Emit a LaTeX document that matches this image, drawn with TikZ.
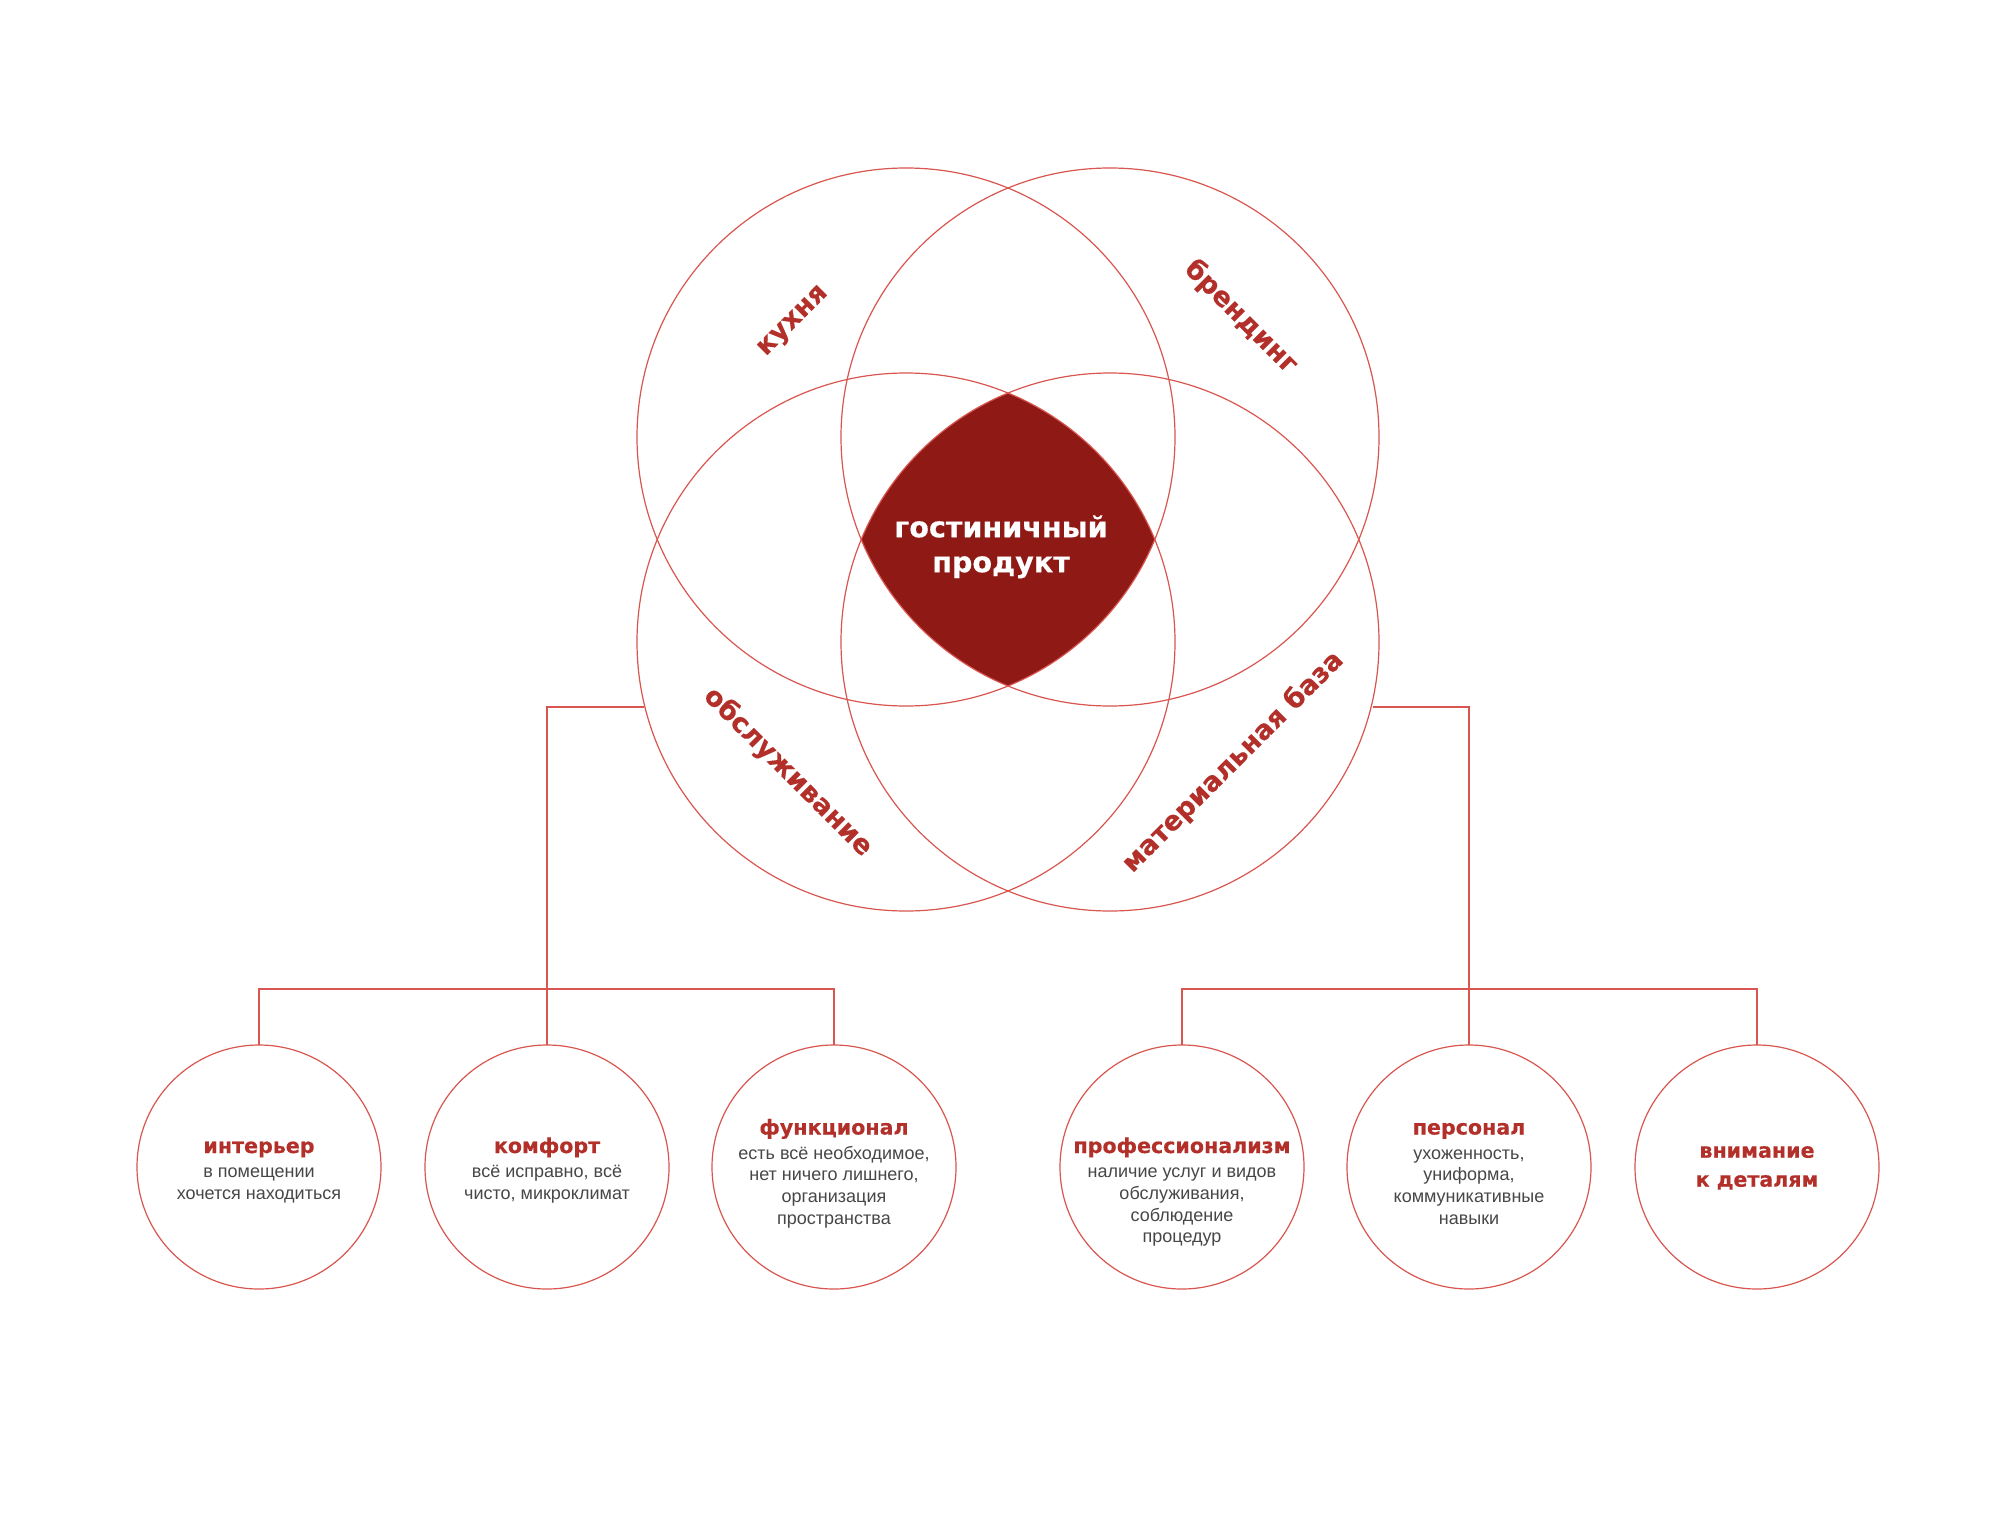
\documentclass[tikz,border=0pt]{standalone}
\usepackage{fontspec}
\setmainfont{Liberation Sans}
\newfontfamily\headfont{DejaVu Sans Bold}[FakeBold=0.35]
\definecolor{vline}{HTML}{D8564F}
\definecolor{lensred}{HTML}{8F1915}
\definecolor{labred}{HTML}{B3302A}
\definecolor{bodygrey}{HTML}{474747}
\begin{document}
\begin{tikzpicture}[x=1pt,y=-1pt,
  vcirc/.style={circle,draw=vline,line width=1.2pt,minimum size=538pt,inner sep=0pt,outer sep=0pt},
  scirc/.style={circle,draw=vline,line width=1.2pt,minimum size=244pt,inner sep=0pt,outer sep=0pt},
  conn/.style={draw=vline,line width=1.2pt},
  vlabel/.style={font=\headfont\fontsize{26.8}{30}\selectfont,text=labred,inner sep=0pt},
  ttl/.style={font=\headfont\fontsize{20.6}{29}\selectfont,text=labred,inner sep=0pt,anchor=base},
  ttlb/.style={font=\headfont\fontsize{20.6}{29}\selectfont,text=labred,inner sep=0pt,anchor=north,align=center},
  body/.style={font=\fontsize{18}{21.7}\selectfont,text=bodygrey,inner sep=0pt,anchor=north,align=center},
  ctext/.style={font=\headfont\fontsize{28.6}{35}\selectfont,text=white,inner sep=0pt,anchor=north,align=center}
]
\useasboundingbox[fill=white] (0,0) rectangle (2007,1520);

% central lens: intersection of the four circles
\begin{scope}
  \clip (906,437) circle[radius=269pt];
  \clip (1110,437) circle[radius=269pt];
  \clip (906,642) circle[radius=269pt];
  \fill[lensred] (1110,642) circle[radius=269pt];
\end{scope}

% Venn circles
\node[vcirc] (vtl) at (906,437) {};
\node[vcirc] (vtr) at (1110,437) {};
\node[vcirc] (vbl) at (906,642) {};
\node[vcirc] (vbr) at (1110,642) {};

% Venn labels
\node[vlabel,rotate=45] (lkux) at (794,322) {кухня};
\node[vlabel,rotate=-45] (lbrd) at (1241,317) {брендинг};
\node[vlabel,rotate=-45] (lobs) at (788,772) {обслуживание};
\node[vlabel,rotate=45] (lmat) at (1233,762) {материальная база};

\node[ctext] (prod) at (1001,512) {\rule{0pt}{25pt}гостиничный\\продукт};

% bottom circles
\node[scirc] (c1) at (259,1167) {};
\node[scirc] (c2) at (547,1167) {};
\node[scirc] (c3) at (834,1167) {};
\node[scirc] (c4) at (1182,1167) {};
\node[scirc] (c5) at (1469,1167) {};
\node[scirc] (c6) at (1757,1167) {};

% junctions on the Venn circles
\coordinate (jl) at (644,707);
\coordinate (jr) at (1373,707);

% connectors
\draw[conn] (jl) -| (c2.north);
\draw[conn] (c1.north) -- ++(0,-56) -| (c3.north);
\draw[conn] (jr) -| (c5.north);
\draw[conn] (c4.north) -- ++(0,-56) -| (c6.north);

% texts in bottom circles
\node[ttl] (t1) at (259,1153) {интерьер};
\node[body] (b1) at (259,1162.5) {\rule{0pt}{15pt}в помещении\\хочется находиться};
\node[ttl] (t2) at (547,1153) {комфорт};
\node[body] (b2) at (547,1162.5) {\rule{0pt}{15pt}всё исправно, всё\\чисто, микроклимат};
\node[ttl] (t3) at (834,1134.5) {функционал};
\node[body] (b3) at (834,1144) {\rule{0pt}{15pt}есть всё необходимое,\\нет ничего лишнего,\\организация\\пространства};
\node[ttl] (t4) at (1182,1153) {профессионализм};
\node[body] (b4) at (1182,1162.5) {\rule{0pt}{15pt}наличие услуг и видов\\обслуживания,\\соблюдение\\процедур};
\node[ttl] (t5) at (1469,1134.5) {персонал};
\node[body] (b5) at (1469,1144) {\rule{0pt}{15pt}ухоженность,\\униформа,\\коммуникативные\\навыки};
\node[ttlb] (t6) at (1757,1137.5) {\rule{0pt}{20pt}внимание\\к деталям};
\end{tikzpicture}
\end{document}
